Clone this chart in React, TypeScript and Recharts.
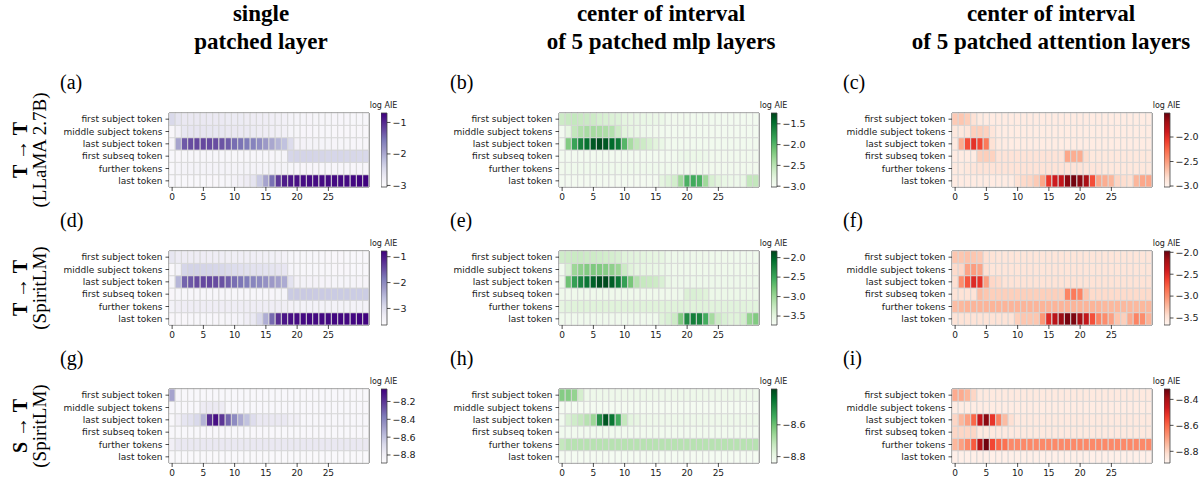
import React from 'react'
import { BarChart, Bar, XAxis, YAxis, Cell, ReferenceArea } from 'recharts'

// layer index on the x axis, token position on the y axis (top to bottom)
const LAYERS = [0, 1, 2, 3, 4, 5, 6, 7, 8, 9, 10, 11, 12, 13, 14, 15, 16, 17, 18, 19, 20, 21, 22, 23, 24, 25, 26, 27, 28, 29, 30, 31]
const X_TICKS = [0, 5, 10, 15, 20, 25]
const ROW_LABELS = ['first subject token', 'middle subject tokens', 'last subject token', 'first subseq token', 'further tokens', 'last token']

const COL_TITLES = [
  ['single', 'patched layer'],
  ['center of interval', 'of 5 patched mlp layers'],
  ['center of interval', 'of 5 patched attention layers'],
]
const ROW_TITLES = [
  ['T \u2192 T', '(LLaMA 2.7B)'],
  ['T \u2192 T', '(SpiritLM)'],
  ['S \u2192 T', '(SpiritLM)'],
]
const PANEL_LETTERS = ['a', 'b', 'c', 'd', 'e', 'f', 'g', 'h', 'i']

// (a) T->T LLaMA, single layer
const llamaSingle = [
  [-2.45, -2.62, -2.68, -2.68, -2.68, -2.68, -2.70, -2.70, -2.70, -2.72, -2.72, -2.72, -2.74, -2.74, -2.75, -2.76, -2.78, -2.80, -2.82, -2.88, -2.90, -2.90, -2.91, -2.92, -2.92, -2.92, -2.93, -2.93, -2.93, -2.94, -2.94, -2.94],
  [-2.95, -2.82, -2.66, -2.64, -2.64, -2.64, -2.65, -2.66, -2.66, -2.68, -2.68, -2.70, -2.70, -2.72, -2.74, -2.76, -2.78, -2.80, -2.82, -2.90, -2.92, -2.93, -2.93, -2.94, -2.94, -2.94, -2.95, -2.95, -2.95, -2.95, -2.95, -2.95],
  [-2.93, -1.95, -1.35, -1.25, -1.22, -1.22, -1.24, -1.26, -1.30, -1.36, -1.48, -1.52, -1.58, -1.64, -1.74, -1.86, -1.98, -2.10, -2.22, -2.50, -2.84, -2.86, -2.88, -2.88, -2.90, -2.90, -2.91, -2.92, -2.92, -2.93, -2.93, -2.93],
  [-2.96, -2.95, -2.94, -2.94, -2.94, -2.94, -2.94, -2.94, -2.94, -2.94, -2.94, -2.94, -2.94, -2.94, -2.94, -2.94, -2.93, -2.92, -2.90, -2.42, -2.40, -2.40, -2.40, -2.41, -2.41, -2.42, -2.42, -2.42, -2.43, -2.43, -2.44, -2.44],
  [-2.96, -2.90, -2.88, -2.88, -2.88, -2.88, -2.88, -2.88, -2.88, -2.88, -2.88, -2.88, -2.88, -2.88, -2.88, -2.88, -2.88, -2.88, -2.88, -2.92, -2.93, -2.93, -2.93, -2.93, -2.93, -2.93, -2.93, -2.93, -2.93, -2.93, -2.93, -2.93],
  [-2.97, -2.96, -2.96, -2.96, -2.96, -2.96, -2.95, -2.95, -2.94, -2.92, -2.86, -2.80, -2.74, -2.62, -2.30, -1.95, -1.50, -1.12, -0.92, -0.86, -0.82, -0.80, -0.80, -0.80, -0.79, -0.79, -0.78, -0.78, -0.78, -0.76, -0.74, -0.72],
]

// (b) T->T LLaMA, mlp interval
const llamaMlp = [
  [-2.62, -2.58, -2.56, -2.58, -2.60, -2.62, -2.68, -2.70, -2.72, -2.74, -2.80, -2.82, -2.84, -2.85, -2.86, -2.87, -2.88, -2.93, -2.94, -2.94, -2.94, -2.95, -2.95, -2.95, -2.95, -2.95, -2.96, -2.96, -2.96, -2.96, -2.96, -2.96],
  [-2.97, -2.82, -2.55, -2.45, -2.40, -2.38, -2.40, -2.42, -2.46, -2.62, -2.78, -2.82, -2.86, -2.90, -2.92, -2.94, -2.95, -2.96, -2.96, -2.96, -2.96, -2.96, -2.96, -2.96, -2.96, -2.96, -2.96, -2.96, -2.96, -2.96, -2.96, -2.96],
  [-2.95, -2.20, -1.85, -1.60, -1.50, -1.35, -1.28, -1.35, -1.45, -1.55, -2.00, -2.40, -2.55, -2.62, -2.70, -2.78, -2.86, -2.93, -2.95, -2.95, -2.95, -2.95, -2.95, -2.95, -2.95, -2.95, -2.95, -2.95, -2.95, -2.95, -2.95, -2.95],
  [-2.96, -2.96, -2.96, -2.96, -2.96, -2.96, -2.96, -2.96, -2.96, -2.96, -2.96, -2.96, -2.96, -2.96, -2.96, -2.96, -2.96, -2.96, -2.95, -2.90, -2.88, -2.88, -2.88, -2.90, -2.94, -2.94, -2.94, -2.94, -2.94, -2.94, -2.94, -2.94],
  [-2.94, -2.92, -2.92, -2.92, -2.92, -2.92, -2.92, -2.92, -2.92, -2.92, -2.92, -2.92, -2.92, -2.92, -2.92, -2.92, -2.92, -2.92, -2.93, -2.94, -2.94, -2.94, -2.94, -2.94, -2.94, -2.94, -2.94, -2.94, -2.94, -2.94, -2.94, -2.94],
  [-2.97, -2.97, -2.97, -2.97, -2.97, -2.97, -2.97, -2.97, -2.97, -2.97, -2.97, -2.97, -2.97, -2.97, -2.97, -2.97, -2.80, -2.74, -2.66, -2.35, -1.95, -1.90, -1.95, -2.35, -2.70, -2.78, -2.85, -2.88, -2.90, -2.85, -2.55, -2.55],
]

// (c) T->T LLaMA, attention interval
const llamaAttn = [
  [-2.72, -2.70, -2.74, -2.85, -2.92, -2.93, -2.93, -2.93, -2.93, -2.93, -2.93, -2.93, -2.93, -2.93, -2.93, -2.93, -2.93, -2.93, -2.93, -2.93, -2.93, -2.93, -2.93, -2.93, -2.94, -2.94, -2.94, -2.94, -2.94, -2.94, -2.94, -2.94],
  [-2.90, -2.90, -2.88, -2.75, -2.74, -2.76, -2.88, -2.93, -2.94, -2.94, -2.94, -2.94, -2.94, -2.94, -2.94, -2.94, -2.94, -2.94, -2.94, -2.94, -2.94, -2.94, -2.94, -2.94, -2.94, -2.94, -2.94, -2.94, -2.94, -2.94, -2.94, -2.94],
  [-2.92, -2.57, -2.15, -2.02, -2.12, -2.34, -2.85, -2.92, -2.93, -2.94, -2.94, -2.94, -2.94, -2.94, -2.94, -2.94, -2.94, -2.94, -2.94, -2.94, -2.94, -2.94, -2.94, -2.94, -2.94, -2.94, -2.94, -2.94, -2.94, -2.94, -2.94, -2.94],
  [-2.93, -2.93, -2.93, -2.93, -2.75, -2.74, -2.76, -2.86, -2.86, -2.86, -2.86, -2.86, -2.86, -2.86, -2.86, -2.86, -2.86, -2.86, -2.55, -2.58, -2.58, -2.82, -2.90, -2.90, -2.90, -2.90, -2.90, -2.90, -2.90, -2.90, -2.90, -2.90],
  [-2.92, -2.92, -2.90, -2.88, -2.86, -2.86, -2.86, -2.86, -2.86, -2.86, -2.86, -2.86, -2.86, -2.86, -2.86, -2.86, -2.86, -2.86, -2.86, -2.86, -2.86, -2.88, -2.88, -2.88, -2.90, -2.90, -2.90, -2.90, -2.90, -2.90, -2.90, -2.90],
  [-2.93, -2.93, -2.93, -2.93, -2.93, -2.93, -2.93, -2.93, -2.93, -2.93, -2.85, -2.80, -2.78, -2.72, -2.55, -2.05, -1.90, -1.85, -1.62, -1.55, -1.62, -1.72, -2.15, -2.55, -2.58, -2.62, -2.78, -2.82, -2.84, -2.62, -2.55, -2.55],
]

// (d) T->T SpiritLM, single layer
const spiritTSingle = [
  [-3.15, -3.25, -3.25, -3.26, -3.26, -3.27, -3.28, -3.28, -3.29, -3.30, -3.30, -3.31, -3.32, -3.32, -3.33, -3.34, -3.35, -3.36, -3.38, -3.48, -3.50, -3.50, -3.50, -3.51, -3.51, -3.52, -3.52, -3.52, -3.53, -3.53, -3.53, -3.54],
  [-3.55, -3.40, -2.88, -2.84, -2.84, -2.85, -2.86, -2.88, -2.90, -2.94, -2.98, -3.02, -3.05, -3.07, -3.08, -3.10, -3.12, -3.14, -3.16, -3.45, -3.48, -3.50, -3.50, -3.50, -3.51, -3.51, -3.52, -3.52, -3.52, -3.53, -3.53, -3.53],
  [-3.50, -2.50, -1.65, -1.55, -1.45, -1.42, -1.42, -1.45, -1.50, -1.62, -1.74, -1.80, -1.88, -1.95, -2.02, -2.10, -2.20, -2.28, -2.38, -3.10, -3.38, -3.40, -3.42, -3.42, -3.44, -3.44, -3.45, -3.45, -3.46, -3.46, -3.47, -3.47],
  [-3.52, -3.51, -3.50, -3.50, -3.50, -3.50, -3.50, -3.50, -3.50, -3.50, -3.50, -3.50, -3.50, -3.50, -3.50, -3.50, -3.49, -3.48, -3.46, -2.74, -2.72, -2.72, -2.72, -2.73, -2.73, -2.73, -2.74, -2.74, -2.74, -2.75, -2.75, -2.76],
  [-3.40, -3.30, -3.28, -3.28, -3.28, -3.28, -3.28, -3.28, -3.28, -3.28, -3.28, -3.28, -3.28, -3.28, -3.28, -3.28, -3.28, -3.28, -3.30, -3.38, -3.40, -3.40, -3.40, -3.40, -3.40, -3.40, -3.40, -3.40, -3.40, -3.40, -3.40, -3.40],
  [-3.52, -3.52, -3.52, -3.51, -3.51, -3.50, -3.50, -3.49, -3.48, -3.46, -3.44, -3.40, -3.32, -3.20, -2.90, -2.40, -1.70, -1.20, -0.98, -0.92, -0.88, -0.86, -0.86, -0.86, -0.85, -0.85, -0.84, -0.84, -0.84, -0.83, -0.82, -0.80],
]

// (e) T->T SpiritLM, mlp interval
const spiritTMlp = [
  [-3.32, -3.30, -3.28, -3.28, -3.30, -3.30, -3.32, -3.34, -3.36, -3.38, -3.45, -3.46, -3.47, -3.48, -3.49, -3.50, -3.52, -3.58, -3.60, -3.60, -3.60, -3.61, -3.61, -3.61, -3.62, -3.62, -3.62, -3.62, -3.63, -3.63, -3.63, -3.63],
  [-3.65, -3.40, -3.00, -2.92, -2.86, -2.84, -2.85, -2.88, -2.92, -3.00, -3.30, -3.45, -3.50, -3.52, -3.54, -3.55, -3.56, -3.60, -3.62, -3.62, -3.62, -3.62, -3.62, -3.62, -3.62, -3.62, -3.62, -3.62, -3.62, -3.62, -3.62, -3.62],
  [-3.62, -2.75, -2.45, -2.25, -2.15, -2.00, -1.88, -1.87, -1.98, -2.15, -2.45, -2.80, -3.15, -3.25, -3.27, -3.30, -3.40, -3.55, -3.60, -3.60, -3.60, -3.60, -3.60, -3.60, -3.60, -3.60, -3.60, -3.60, -3.60, -3.60, -3.60, -3.60],
  [-3.62, -3.62, -3.62, -3.62, -3.62, -3.62, -3.62, -3.62, -3.62, -3.62, -3.62, -3.62, -3.62, -3.62, -3.62, -3.62, -3.62, -3.62, -3.62, -3.60, -3.42, -3.40, -3.42, -3.45, -3.58, -3.58, -3.58, -3.58, -3.58, -3.58, -3.58, -3.58],
  [-3.50, -3.46, -3.45, -3.45, -3.45, -3.45, -3.45, -3.45, -3.45, -3.45, -3.45, -3.45, -3.45, -3.45, -3.45, -3.45, -3.45, -3.45, -3.45, -3.45, -3.45, -3.45, -3.45, -3.45, -3.46, -3.46, -3.46, -3.46, -3.46, -3.46, -3.47, -3.47],
  [-3.63, -3.63, -3.63, -3.63, -3.63, -3.63, -3.63, -3.63, -3.63, -3.63, -3.63, -3.63, -3.63, -3.63, -3.63, -3.63, -3.45, -3.40, -3.30, -2.85, -2.30, -2.20, -2.25, -2.55, -3.05, -3.30, -3.40, -3.45, -3.45, -3.35, -2.95, -2.85],
]

// (f) T->T SpiritLM, attention interval
const spiritTAttn = [
  [-3.30, -3.30, -3.28, -3.30, -3.32, -3.45, -3.48, -3.50, -3.50, -3.50, -3.50, -3.50, -3.50, -3.50, -3.50, -3.50, -3.50, -3.50, -3.50, -3.50, -3.50, -3.50, -3.50, -3.50, -3.50, -3.50, -3.50, -3.50, -3.50, -3.50, -3.50, -3.50],
  [-3.42, -3.40, -3.12, -3.08, -3.12, -3.45, -3.50, -3.50, -3.50, -3.50, -3.50, -3.50, -3.50, -3.50, -3.50, -3.50, -3.50, -3.50, -3.50, -3.50, -3.50, -3.50, -3.50, -3.50, -3.50, -3.50, -3.50, -3.50, -3.50, -3.50, -3.50, -3.50],
  [-3.45, -3.00, -2.72, -2.50, -2.55, -3.10, -3.40, -3.42, -3.48, -3.48, -3.48, -3.48, -3.48, -3.48, -3.48, -3.48, -3.48, -3.48, -3.48, -3.48, -3.48, -3.48, -3.48, -3.48, -3.48, -3.48, -3.48, -3.48, -3.48, -3.48, -3.48, -3.48],
  [-3.48, -3.48, -3.48, -3.48, -3.25, -3.30, -3.35, -3.35, -3.35, -3.35, -3.35, -3.35, -3.35, -3.35, -3.35, -3.35, -3.35, -3.35, -2.95, -2.90, -2.95, -3.30, -3.42, -3.42, -3.42, -3.42, -3.42, -3.42, -3.42, -3.42, -3.42, -3.42],
  [-3.25, -3.22, -3.20, -3.20, -3.20, -3.20, -3.20, -3.20, -3.20, -3.20, -3.20, -3.20, -3.20, -3.20, -3.20, -3.20, -3.20, -3.20, -3.20, -3.20, -3.20, -3.20, -3.20, -3.20, -3.22, -3.22, -3.22, -3.22, -3.22, -3.22, -3.22, -3.22],
  [-3.48, -3.48, -3.48, -3.48, -3.48, -3.48, -3.48, -3.48, -3.48, -3.48, -3.35, -3.30, -3.30, -3.30, -3.05, -2.50, -2.30, -2.15, -2.02, -2.05, -2.20, -2.35, -2.70, -2.95, -3.00, -3.10, -3.30, -3.35, -3.15, -2.95, -3.00, -3.20],
]

// (g) S->T SpiritLM, single layer
const spiritSSingle = [
  [-8.50, -8.84, -8.86, -8.86, -8.86, -8.86, -8.86, -8.86, -8.86, -8.86, -8.86, -8.86, -8.86, -8.86, -8.86, -8.86, -8.86, -8.86, -8.86, -8.86, -8.86, -8.86, -8.86, -8.86, -8.86, -8.86, -8.86, -8.86, -8.86, -8.86, -8.86, -8.86],
  [-8.86, -8.86, -8.86, -8.86, -8.86, -8.78, -8.77, -8.77, -8.78, -8.86, -8.86, -8.86, -8.86, -8.86, -8.86, -8.86, -8.86, -8.86, -8.86, -8.86, -8.86, -8.86, -8.86, -8.86, -8.86, -8.86, -8.86, -8.86, -8.86, -8.86, -8.86, -8.86],
  [-8.86, -8.80, -8.74, -8.72, -8.68, -8.55, -8.18, -8.10, -8.20, -8.32, -8.42, -8.52, -8.60, -8.70, -8.76, -8.76, -8.76, -8.76, -8.76, -8.80, -8.80, -8.85, -8.85, -8.85, -8.85, -8.85, -8.85, -8.85, -8.85, -8.85, -8.85, -8.85],
  [-8.86, -8.86, -8.86, -8.86, -8.86, -8.86, -8.86, -8.86, -8.86, -8.86, -8.86, -8.86, -8.86, -8.86, -8.86, -8.86, -8.86, -8.86, -8.86, -8.86, -8.86, -8.86, -8.86, -8.86, -8.86, -8.86, -8.86, -8.86, -8.86, -8.86, -8.86, -8.86],
  [-8.80, -8.76, -8.76, -8.76, -8.76, -8.76, -8.76, -8.76, -8.76, -8.76, -8.76, -8.76, -8.76, -8.76, -8.76, -8.76, -8.76, -8.76, -8.76, -8.76, -8.76, -8.76, -8.76, -8.76, -8.76, -8.76, -8.76, -8.76, -8.76, -8.76, -8.76, -8.76],
  [-8.87, -8.87, -8.87, -8.87, -8.87, -8.87, -8.87, -8.87, -8.87, -8.87, -8.87, -8.87, -8.87, -8.87, -8.87, -8.87, -8.87, -8.87, -8.87, -8.87, -8.87, -8.87, -8.87, -8.87, -8.87, -8.87, -8.87, -8.87, -8.87, -8.87, -8.87, -8.87],
]

// (h) S->T SpiritLM, mlp interval
const spiritSMlp = [
  [-8.63, -8.63, -8.65, -8.75, -8.81, -8.81, -8.81, -8.81, -8.81, -8.81, -8.81, -8.81, -8.81, -8.81, -8.81, -8.81, -8.81, -8.81, -8.81, -8.81, -8.81, -8.81, -8.81, -8.81, -8.81, -8.81, -8.81, -8.81, -8.81, -8.81, -8.81, -8.81],
  [-8.83, -8.83, -8.83, -8.83, -8.83, -8.83, -8.83, -8.83, -8.83, -8.83, -8.83, -8.83, -8.83, -8.83, -8.83, -8.83, -8.83, -8.83, -8.83, -8.83, -8.83, -8.83, -8.83, -8.83, -8.83, -8.83, -8.83, -8.83, -8.83, -8.83, -8.83, -8.83],
  [-8.82, -8.76, -8.74, -8.72, -8.70, -8.66, -8.50, -8.40, -8.45, -8.55, -8.72, -8.78, -8.79, -8.81, -8.81, -8.81, -8.81, -8.81, -8.81, -8.81, -8.81, -8.81, -8.81, -8.81, -8.81, -8.81, -8.81, -8.81, -8.81, -8.81, -8.81, -8.81],
  [-8.82, -8.82, -8.82, -8.82, -8.82, -8.82, -8.82, -8.82, -8.82, -8.82, -8.82, -8.82, -8.82, -8.82, -8.82, -8.82, -8.82, -8.82, -8.82, -8.82, -8.82, -8.82, -8.82, -8.82, -8.82, -8.82, -8.82, -8.82, -8.82, -8.82, -8.82, -8.82],
  [-8.72, -8.70, -8.70, -8.70, -8.70, -8.70, -8.70, -8.70, -8.70, -8.70, -8.70, -8.70, -8.70, -8.70, -8.70, -8.70, -8.70, -8.70, -8.70, -8.70, -8.70, -8.70, -8.70, -8.70, -8.70, -8.70, -8.70, -8.70, -8.70, -8.70, -8.70, -8.70],
  [-8.83, -8.83, -8.83, -8.83, -8.83, -8.83, -8.83, -8.83, -8.83, -8.83, -8.83, -8.83, -8.83, -8.83, -8.83, -8.83, -8.83, -8.83, -8.83, -8.83, -8.83, -8.83, -8.83, -8.83, -8.83, -8.83, -8.83, -8.83, -8.83, -8.83, -8.83, -8.83],
]

// (i) S->T SpiritLM, attention interval
const spiritSAttn = [
  [-8.72, -8.72, -8.74, -8.80, -8.85, -8.85, -8.85, -8.85, -8.85, -8.85, -8.85, -8.85, -8.85, -8.85, -8.85, -8.85, -8.85, -8.85, -8.85, -8.85, -8.85, -8.85, -8.85, -8.85, -8.85, -8.85, -8.85, -8.85, -8.85, -8.85, -8.85, -8.85],
  [-8.86, -8.86, -8.86, -8.86, -8.86, -8.86, -8.86, -8.86, -8.86, -8.86, -8.86, -8.86, -8.86, -8.86, -8.86, -8.86, -8.86, -8.86, -8.86, -8.86, -8.86, -8.86, -8.86, -8.86, -8.86, -8.86, -8.86, -8.86, -8.86, -8.86, -8.86, -8.86],
  [-8.80, -8.74, -8.70, -8.60, -8.45, -8.36, -8.52, -8.65, -8.75, -8.82, -8.85, -8.85, -8.85, -8.85, -8.85, -8.85, -8.85, -8.85, -8.85, -8.85, -8.85, -8.85, -8.85, -8.85, -8.85, -8.85, -8.85, -8.85, -8.85, -8.85, -8.85, -8.85],
  [-8.80, -8.80, -8.80, -8.80, -8.85, -8.85, -8.85, -8.85, -8.85, -8.85, -8.85, -8.85, -8.85, -8.85, -8.85, -8.85, -8.85, -8.85, -8.85, -8.85, -8.85, -8.85, -8.85, -8.85, -8.85, -8.85, -8.85, -8.85, -8.85, -8.85, -8.85, -8.85],
  [-8.74, -8.70, -8.66, -8.58, -8.42, -8.33, -8.55, -8.60, -8.62, -8.66, -8.66, -8.66, -8.66, -8.66, -8.66, -8.66, -8.66, -8.66, -8.66, -8.66, -8.66, -8.66, -8.66, -8.66, -8.66, -8.66, -8.66, -8.66, -8.66, -8.66, -8.66, -8.66],
  [-8.87, -8.87, -8.87, -8.87, -8.87, -8.87, -8.87, -8.87, -8.87, -8.87, -8.87, -8.87, -8.87, -8.87, -8.87, -8.87, -8.87, -8.87, -8.87, -8.87, -8.87, -8.87, -8.87, -8.87, -8.87, -8.87, -8.87, -8.87, -8.87, -8.87, -8.87, -8.87],
]

// colour scale limits [vmin, vmax] and colorbar ticks, per panel a..i
const RANGES = [
  [-3.05, -0.7], [-3.02, -1.24], [-3.02, -1.51],
  [-3.64, -0.78], [-3.73, -1.83], [-3.66, -1.97],
  [-8.89, -8.06], [-8.84, -8.375], [-8.89, -8.32],
]
const CB_TICKS = [
  [-1, -2, -3], [-1.5, -2, -2.5, -3], [-2, -2.5, -3],
  [-1, -2, -3], [-2, -2.5, -3, -3.5], [-2, -2.5, -3, -3.5],
  [-8.2, -8.4, -8.6, -8.8], [-8.6, -8.8], [-8.4, -8.6, -8.8],
]
const CB_DIGITS = [0, 1, 1, 0, 1, 1, 1, 1, 1]
const GRIDS = [llamaSingle, llamaMlp, llamaAttn, spiritTSingle, spiritTMlp, spiritTAttn, spiritSSingle, spiritSMlp, spiritSAttn]

const PURPLES = ['#fcfbfd', '#efedf5', '#dadaeb', '#bcbddc', '#9e9ac8', '#807dba', '#6a51a3', '#54278f', '#3f007d']
const GREENS = ['#f7fcf5', '#e5f5e0', '#c7e9c0', '#a1d99b', '#74c476', '#41ab5d', '#238b45', '#006d2c', '#00441b']
const REDS = ['#fff5f0', '#fee0d2', '#fcbba1', '#fc9272', '#fb6a4a', '#ef3b2c', '#cb181d', '#a50f15', '#67000d']
const CMAPS = [PURPLES, GREENS, REDS]

const PLOT_LEFTS = [169, 559, 952]
const PLOT_TOPS = [113, 251, 389]
const TITLE_CENTERS = [261, 661, 1051]
const PLOT_W = 200
const PLOT_H = 74
const YAXIS_W = 110
const SANS = 'DejaVu Sans'
const SERIF = '"Liberation Serif", "Times New Roman", serif'

function hexToRgb(h: string) {
  return [1, 3, 5].map(i => parseInt(h.slice(i, i + 2), 16))
}

function colorAt(cmap: string[], t: number) {
  const c = Math.max(0, Math.min(1, t)) * (cmap.length - 1)
  const i = Math.min(Math.floor(c), cmap.length - 2)
  const f = c - i
  const a = hexToRgb(cmap[i])
  const b = hexToRgb(cmap[i + 1])
  const rgb = a.map((v, k) => Math.round(v + (b[k] - v) * f))
  return `rgb(${rgb[0]},${rgb[1]},${rgb[2]})`
}

const fmtMinus = (v: number, digits: number) => v.toFixed(digits).replace('-', '\u2212')

function LayerTick({ x, y, payload }: any) {
  const v = Number(payload.value)
  if (!X_TICKS.includes(v)) return <g />
  return (
    <g>
      <line x1={x} x2={x} y1={y - 6} y2={y - 2} stroke="#222" strokeWidth={0.8} />
      <text x={x} y={y} dy="0.78em" textAnchor="middle" fontSize={9} fontFamily={SANS} fill="#1a1a1a">{v}</text>
    </g>
  )
}

function TokenTick({ x, y, payload }: any) {
  const label = ROW_LABELS[5 - Math.floor(Number(payload.value))]
  return (
    <text x={x} y={y} dy="0.34em" textAnchor="end" fontSize={9} fontFamily={SANS} fill="#1a1a1a">{label}</text>
  )
}

function Heatmap({ grid, cmap, range, left, top }: { grid: number[][]; cmap: string[]; range: number[]; left: number; top: number }) {
  const [vmin, vmax] = range
  const data = LAYERS.map(layer => {
    const d: Record<string, number> = { layer }
    grid.forEach((row, r) => {
      d['h' + r] = 1
      d['v' + r] = row[layer]
    })
    return d
  })
  return (
    <div style={{ position: 'absolute', left: left - YAXIS_W, top: top - 1 }}>
      <BarChart width={YAXIS_W + PLOT_W + 2} height={PLOT_H + 25} data={data}
        margin={{ top: 1, right: 2, bottom: 0, left: 0 }} barCategoryGap={0} barGap={0}>
        <XAxis dataKey="layer" interval={0} axisLine={false} tickLine={false} tickSize={4} tickMargin={2}
          height={24} tick={<LayerTick />} />
        <YAxis type="number" domain={[0, 6]} ticks={[0.5, 1.5, 2.5, 3.5, 4.5, 5.5]} interval={0} width={YAXIS_W}
          axisLine={false} tickSize={3.5} tickMargin={3} tickLine={{ stroke: '#222', strokeWidth: 0.8 }}
          tick={<TokenTick />} />
        {[5, 4, 3, 2, 1, 0].map(r => (
          <Bar key={r} dataKey={'h' + r} stackId="cells" isAnimationActive={false} stroke="#d4d4d4" strokeWidth={0.8}>
            {data.map((d, i) => (
              <Cell key={i} fill={colorAt(cmap, (d['v' + r] - vmin) / (vmax - vmin))} />
            ))}
          </Bar>
        ))}
        <ReferenceArea x1={0} x2={31} y1={0} y2={6} fill="none" stroke="#333" strokeWidth={1} ifOverflow="visible" />
      </BarChart>
    </div>
  )
}

function Colorbar({ id, cmap, range, ticks, digits, left, top }: { id: string; cmap: string[]; range: number[]; ticks: number[]; digits: number; left: number; top: number }) {
  const pad = 7
  return (
    <div style={{ position: 'absolute', left, top: top - pad }}>
      <div style={{ position: 'absolute', left: -20, width: 45, top: -5, textAlign: 'center', fontFamily: SANS, fontSize: 8, color: '#1a1a1a', lineHeight: '10px' }}>log AIE</div>
      <BarChart width={6 + 40} height={PLOT_H + 2 * pad} data={[{ k: 'cb', span: range }]}
        margin={{ top: pad, bottom: pad, left: 0, right: 0 }} barCategoryGap={0}>
        <defs>
          <linearGradient id={id} x1="0" y1="1" x2="0" y2="0">
            {cmap.map((c, i) => <stop key={i} offset={i / (cmap.length - 1)} stopColor={c} />)}
          </linearGradient>
        </defs>
        <XAxis dataKey="k" hide />
        <YAxis orientation="right" type="number" domain={range} ticks={ticks} interval={0} width={40}
          axisLine={false} tickSize={3.5} tickMargin={2} tickLine={{ stroke: '#222', strokeWidth: 0.8 }}
          tick={{ fontSize: 9.5, fontFamily: SANS, fill: '#1a1a1a' }}
          tickFormatter={(v: number) => fmtMinus(v, digits)} />
        <Bar dataKey="span" fill={`url(#${id})`} stroke="#444" strokeWidth={0.8} isAnimationActive={false} />
      </BarChart>
    </div>
  )
}

export default function App() {
  return (
    <div style={{ position: 'absolute', left: 0, top: 0, width: 1200, height: 480, background: '#fff', overflow: 'hidden' }}>
      {COL_TITLES.map((lines, c) => (
        <div key={'t' + c} style={{ position: 'absolute', left: TITLE_CENTERS[c] - 200, width: 400, top: 0, textAlign: 'center', fontFamily: SERIF, fontWeight: 'bold', fontSize: 23, lineHeight: '28px', color: '#000' }}>
          {lines.map((l, i) => <div key={i}>{l}</div>)}
        </div>
      ))}
      {ROW_TITLES.map((lines, r) => (
        <div key={'r' + r} style={{ position: 'absolute', left: 30 - 80, top: PLOT_TOPS[r] + PLOT_H / 2 - 20, width: 160, height: 40, transform: 'rotate(-90deg)', textAlign: 'center', fontFamily: SERIF, fontSize: 19, lineHeight: '20px', color: '#000' }}>
          <div style={{ fontWeight: 'bold', fontSize: 20 }}>{lines[0]}</div>
          <div>{lines[1]}</div>
        </div>
      ))}
      {PANEL_LETTERS.map((letter, p) => {
        const r = Math.floor(p / 3)
        const c = p % 3
        const left = PLOT_LEFTS[c]
        const top = PLOT_TOPS[r]
        return (
          <React.Fragment key={letter}>
            <div style={{ position: 'absolute', left: left - 109, top: top - 43, fontFamily: SERIF, fontSize: 20, lineHeight: '24px', color: '#000' }}>({letter})</div>
            <Heatmap grid={GRIDS[p]} cmap={CMAPS[c]} range={RANGES[p]} left={left} top={top} />
            <Colorbar id={'cb_' + letter} cmap={CMAPS[c]} range={RANGES[p]} ticks={CB_TICKS[p]} digits={CB_DIGITS[p]}
              left={left + PLOT_W + 12} top={top} />
          </React.Fragment>
        )
      })}
    </div>
  )
}
